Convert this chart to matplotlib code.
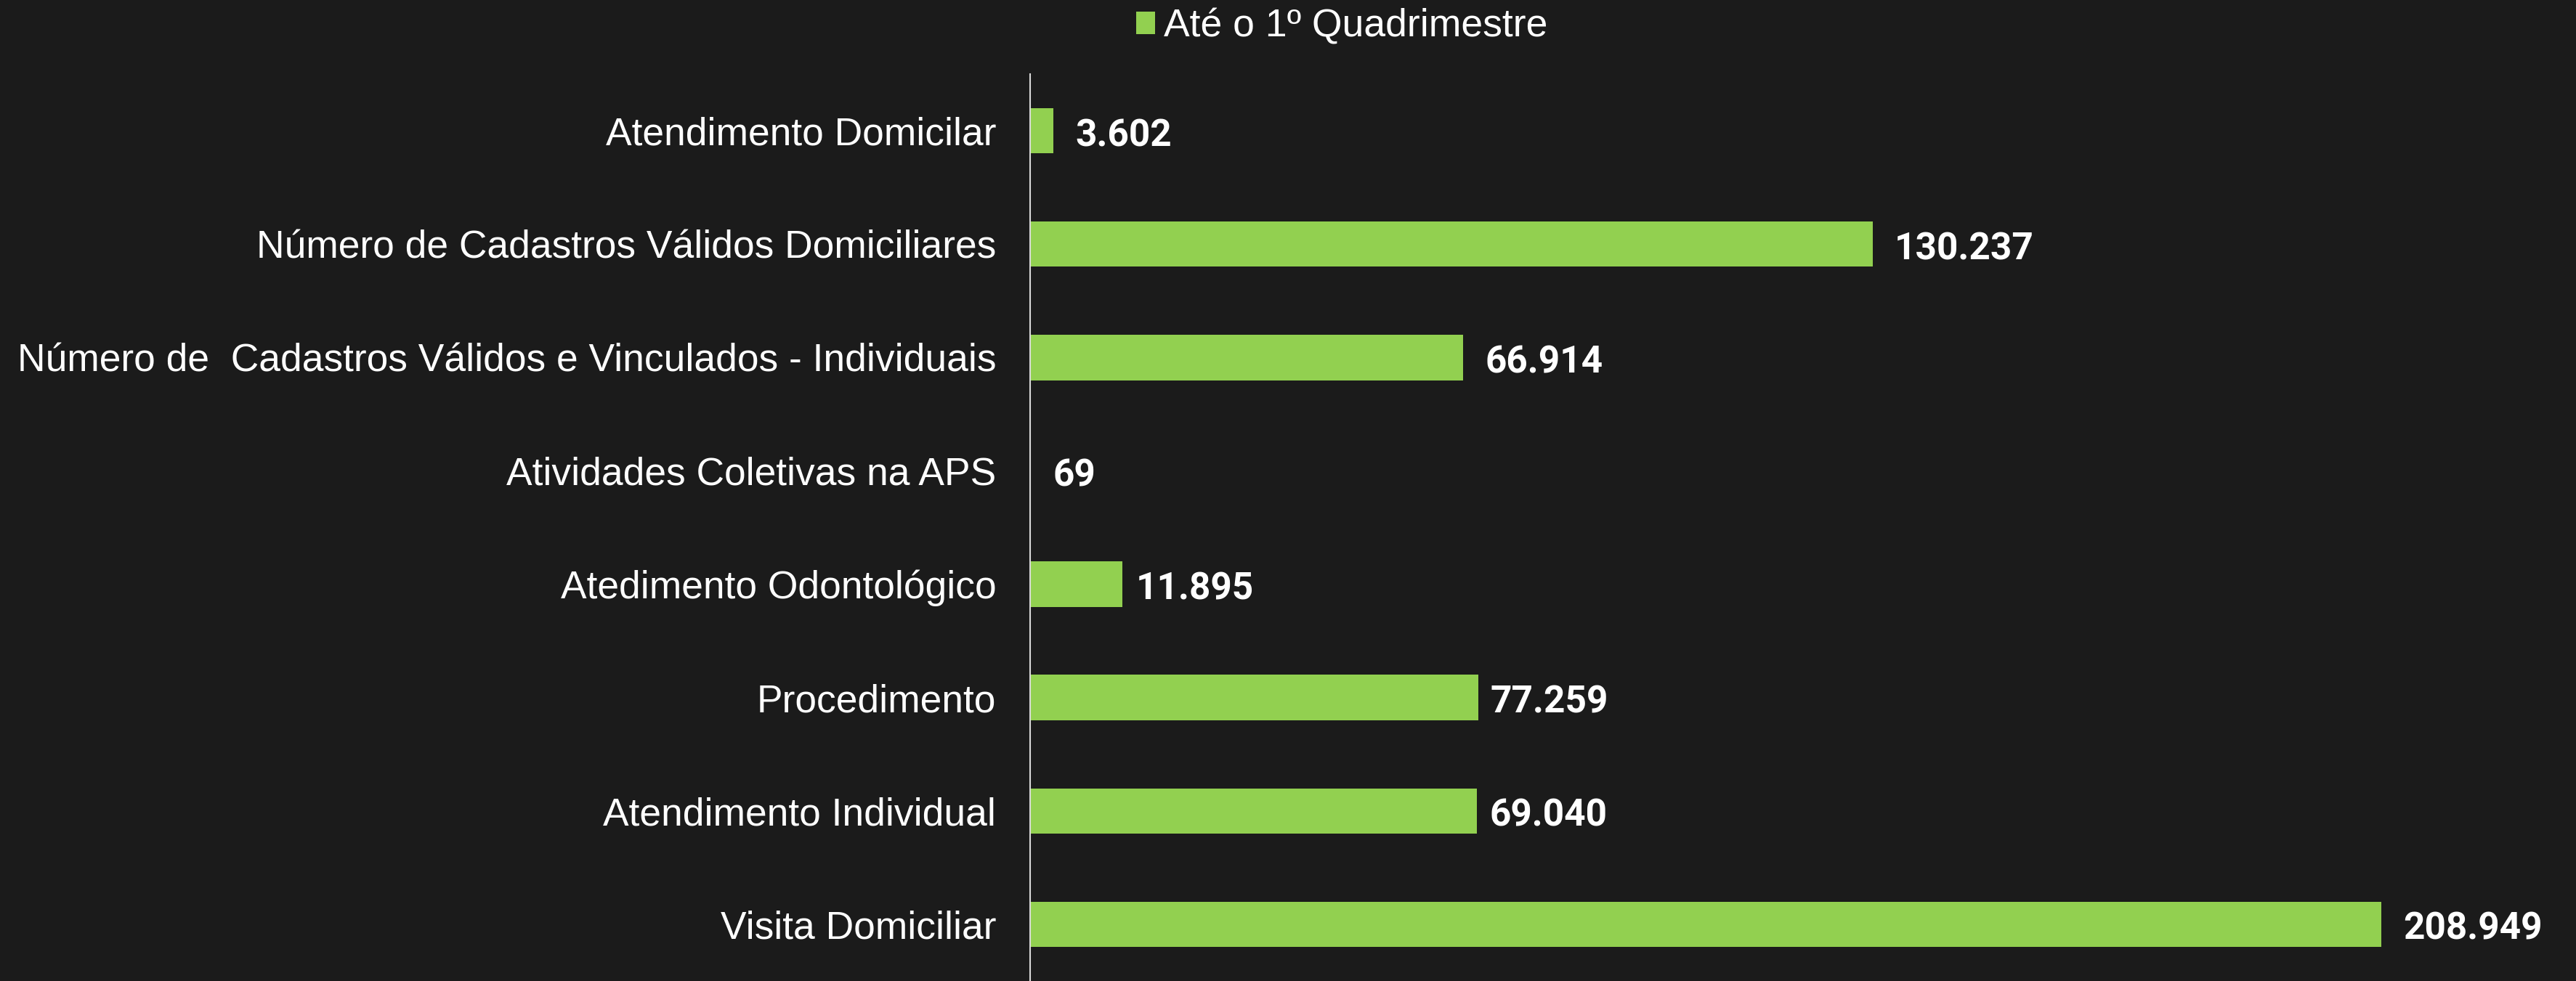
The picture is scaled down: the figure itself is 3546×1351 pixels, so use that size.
import matplotlib.pyplot as plt

# dados
categorias = [
    "Atendimento Domicilar",
    "Número de Cadastros Válidos Domiciliares",
    "Número de  Cadastros Válidos e Vinculados - Individuais",
    "Atividades Coletivas na APS",
    "Atedimento Odontológico",
    "Procedimento",
    "Atendimento Individual",
    "Visita Domiciliar",
]
# comprimento das barras como aparecem no grafico
valores = [3602, 130237, 66914, 69, 14270, 69240, 69040, 208949]
rotulos = ["3.602", "130.237", "66.914", "69", "11.895", "77.259", "69.040", "208.949"]
serie = "Até o 1º Quadrimestre"

fundo = "#1b1b1b"
verde = "#92d050"
# distancia do rotulo ate o fim da barra (px)
gap_px = [30, 30, 30, 30, 18, 17, 17, 30]

fig = plt.figure(figsize=(35.46, 13.51), dpi=100, facecolor=fundo)
ax = fig.add_axes([0.4, 0.0, 0.6, 0.9245], facecolor=fundo)

y = list(range(len(categorias)))
ax.barh(y, valores, height=0.4, color=verde, label=serie)

for yi, v, r, g in zip(y, valores, rotulos, gap_px):
    ax.annotate(r, (v, yi), xytext=(g * 0.72, -5), textcoords="offset points",
                va="center", ha="left", color="white", fontsize=37,
                fontweight="bold", family="Roboto")

ax.set_ylim(len(categorias) - 0.5, -0.5)
ax.set_xlim(0, 239000)
ax.set_yticks(y)
ax.set_yticklabels(categorias, fontsize=38.4, color="white", family="Liberation Sans")
ax.tick_params(axis="y", length=0, pad=34)
ax.set_xticks([])
for s in ["top", "right", "bottom"]:
    ax.spines[s].set_visible(False)
ax.spines["left"].set_color("#d9d9d9")
ax.spines["left"].set_linewidth(1.5)

fig.legend(loc="center", bbox_to_anchor=(0.521, 0.973), frameon=False,
           prop={"family": "Liberation Sans", "size": 38.5}, labelcolor="white",
           handlelength=0.49, handleheight=0.52, handletextpad=0.22)

fig.savefig("out.png", facecolor=fundo)
